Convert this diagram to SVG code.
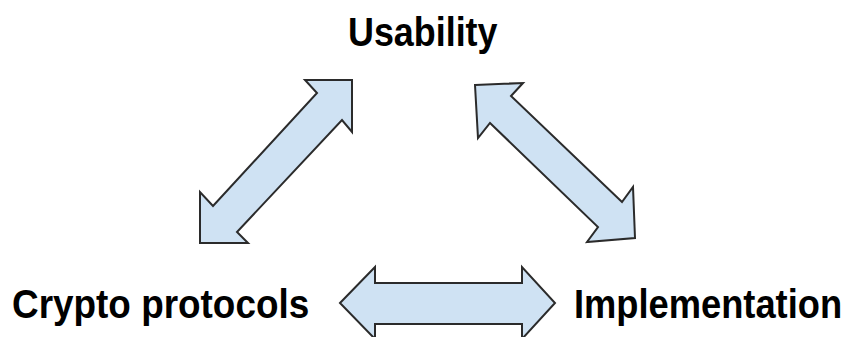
<svg xmlns="http://www.w3.org/2000/svg" width="851" height="337" viewBox="0 0 851 337">
<style>
.lbl{font-family:"Liberation Sans",Arial,Helvetica,sans-serif;font-weight:bold;font-size:41px;fill:#000}
.arr{fill:#cfe2f3;stroke:#2b2b2b;stroke-width:2;stroke-linejoin:miter}
</style>
<rect width="851" height="337" fill="#fff"/>
<g id="usability"><text class="lbl" transform="translate(348,46) scale(0.875,1)">Usability</text></g>
<g id="crypto"><text class="lbl" transform="translate(12,318) scale(0.9,1)">Crypto protocols</text></g>
<g id="implementation"><text class="lbl" transform="translate(574,318) scale(0.885,1)">Implementation</text></g>
<g id="connectors">
<polygon class="arr" points="352,80 305,80 317,93 213,206 200,192 200,243 248,243 237,232 342,120 352,132"/>
<polygon class="arr" points="475,85 523,83 511,96 622,202 633,187 635,238 587,242 598,227 490,123 478,138"/>
<polygon class="arr" points="340,303 375,267 375,283 522,283 522,267 555,303 522,339 522,324 375,324 375,339"/>
</g>
</svg>
